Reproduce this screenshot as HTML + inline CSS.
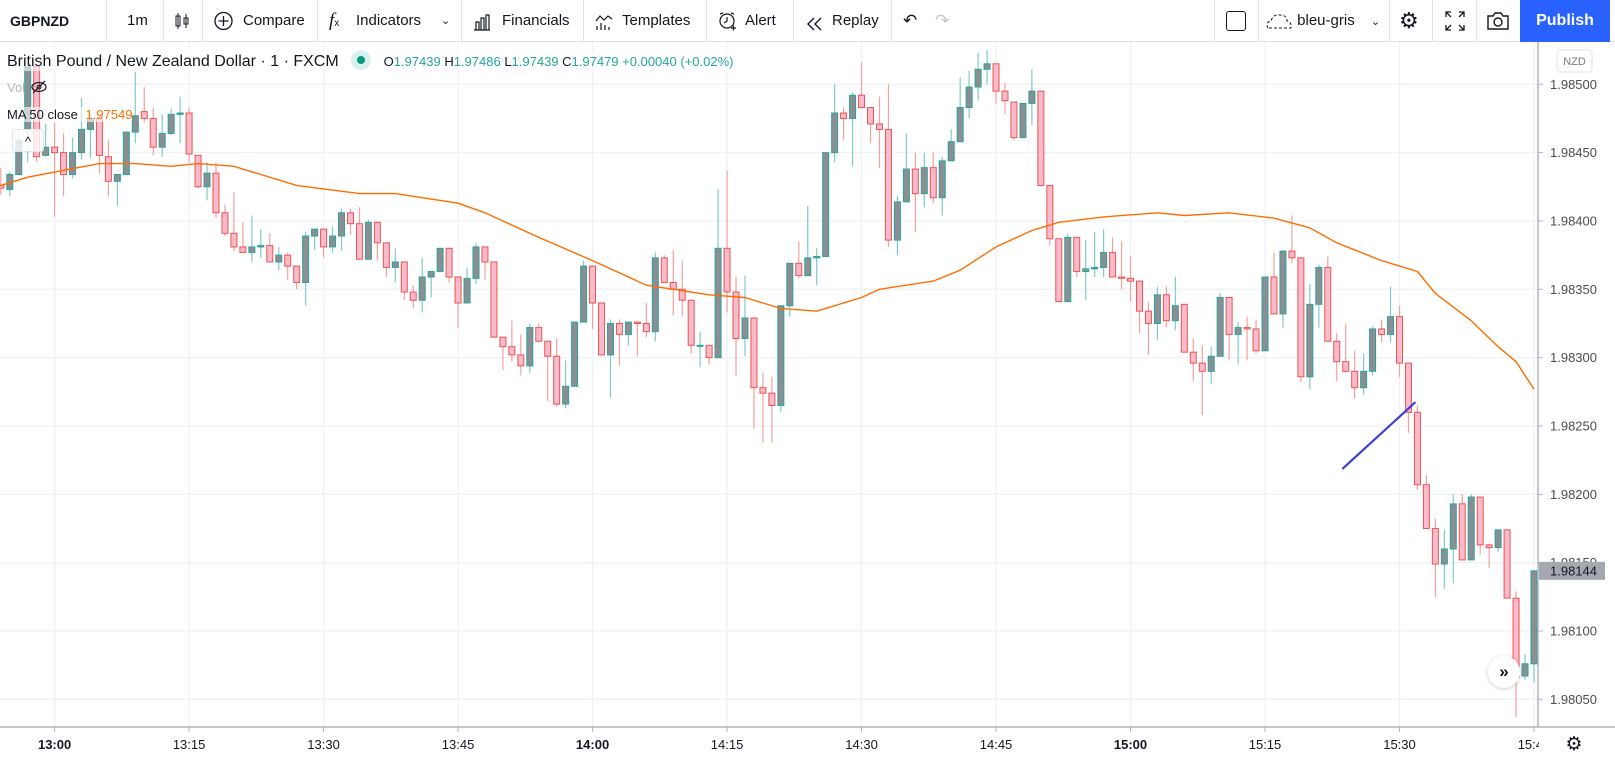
<!DOCTYPE html>
<html><head><meta charset="utf-8"><style>
*{box-sizing:border-box;margin:0;padding:0}
body{width:1615px;height:759px;overflow:hidden;background:#fff;font-family:"Liberation Sans",sans-serif;color:#131722;position:relative}
.tb{position:absolute;left:0;top:0;width:1615px;height:42px;border-bottom:1px solid #e0e3eb;background:#fff}
.ti{position:absolute;top:0;height:42px;line-height:42px;font-size:15px;color:#131722;white-space:nowrap}
.ic{position:absolute;top:11px;height:20px}
.sep{position:absolute;top:0;width:1px;height:42px;background:#e0e3eb}
.leg{position:absolute;left:7px;white-space:nowrap}
</style></head><body>
<div class="tb">
 <div class="ti" style="left:10px;font-weight:bold;font-size:14px">GBPNZD</div>
 <div class="sep" style="left:106px"></div>
 <div class="ti" style="left:127px">1m</div>
 <div class="sep" style="left:163px"></div>
 <svg class="ic" style="left:174px" width="16" height="20" viewBox="0 0 16 20"><rect x="2" y="5" width="4" height="10" fill="none" stroke="#131722"/><line x1="4" y1="2" x2="4" y2="18" stroke="#131722"/><rect x="10" y="7" width="4" height="6" fill="none" stroke="#131722"/><line x1="12" y1="3" x2="12" y2="17" stroke="#131722"/></svg>
 <div class="sep" style="left:202px"></div>
 <svg class="ic" style="left:213px" width="21" height="20" viewBox="0 0 20 20"><circle cx="10" cy="10" r="8.5" fill="none" stroke="#131722" stroke-width="1.3"/><path d="M10 5v10M5 10h10" stroke="#131722" stroke-width="1.3"/></svg>
 <div class="ti" style="left:243px">Compare</div>
 <div class="sep" style="left:317px"></div>
 <div class="ti" style="left:329px"><i style="font-family:'Liberation Serif',serif;font-size:19px">f</i><span style="font-size:10px">x</span></div>
 <div class="ti" style="left:356px">Indicators</div>
 <div class="ti" style="left:441px;font-size:11px">⌄</div>
 <div class="sep" style="left:461px"></div>
 <svg class="ic" style="left:473px;top:12px" width="18" height="18" viewBox="0 0 18 18"><path d="M1 17h16M3 17V9h3v8M8 17V5h3v12M13 17V2h3v15" fill="none" stroke="#131722" stroke-width="1.2"/></svg>
 <div class="ti" style="left:502px">Financials</div>
 <div class="sep" style="left:583px"></div>
 <svg class="ic" style="left:595px;top:12px" width="18" height="18" viewBox="0 0 18 18"><path d="M1 8l4-5 4 4 4-4 4 3M2 17v-4M6 17v-7M10 17v-5M14 17v-3" fill="none" stroke="#131722" stroke-width="1.2"/></svg>
 <div class="ti" style="left:622px">Templates</div>
 <div class="sep" style="left:706px"></div>
 <svg class="ic" style="left:717px" width="20" height="20" viewBox="0 0 20 20"><circle cx="10" cy="10" r="7" fill="none" stroke="#131722" stroke-width="1.2"/><path d="M10 6v4l-3 2M3 3l3-1M17 3l-3-1M14 17h5M16.5 14.5v5" fill="none" stroke="#131722" stroke-width="1.2"/></svg>
 <div class="ti" style="left:745px">Alert</div>
 <div class="sep" style="left:793px"></div>
 <svg class="ic" style="left:806px;top:14px" width="18" height="14" viewBox="0 0 18 14"><path d="M8 1L2 7l6 6M15 1L9 7l6 6" fill="none" stroke="#131722" stroke-width="1.4"/></svg>
 <div class="ti" style="left:832px">Replay</div>
 <div class="sep" style="left:891px"></div>
 <div class="ti" style="left:903px;font-size:17px">↶</div>
 <div class="ti" style="left:935px;font-size:17px;color:#c3c6ce">↷</div>
 <div class="sep" style="left:1214px"></div>
 <div class="ti" style="left:1226px;top:11px;height:20px;width:20px;border:1.6px solid #131722;border-radius:3px"></div>
 <div class="sep" style="left:1258px"></div>
 <div class="ti" style="left:1265px"><svg width="28" height="16" viewBox="0 0 28 16" style="vertical-align:middle"><path d="M3 15 Q0 9 6 8 Q8 1 15 2 Q22 2 22 8 Q27 9 26 15 Z" fill="none" stroke="#131722" stroke-dasharray="3 2"/></svg> bleu-gris <span style="font-size:11px;margin-left:12px">⌄</span></div>
 <div class="sep" style="left:1389px"></div>
 <div class="ti" style="left:1399px;font-size:22px">⚙</div>
 <div class="sep" style="left:1432px"></div>
 <div class="ti" style="left:1445px"><svg width="20" height="20" viewBox="0 0 20 20" style="vertical-align:middle"><path d="M1 6V1h5M1 1l5 5M19 6V1h-5M19 1l-5 5M1 14v5h5M1 19l5-5M19 14v5h-5M19 19l-5-5" fill="none" stroke="#131722" stroke-width="1.3"/></svg></div>
 <div class="sep" style="left:1476px"></div>
 <div class="ti" style="left:1486px"><svg width="24" height="20" viewBox="0 0 24 20" style="vertical-align:middle"><path d="M2 5h5l2-3h6l2 3h5v13H2z" fill="none" stroke="#131722" stroke-width="1.4"/><circle cx="12" cy="11" r="4" fill="none" stroke="#131722" stroke-width="1.4"/></svg></div>
 <div class="ti" style="left:1520px;width:90px;background:#2962ff;color:#fff;text-align:center;font-size:16px;font-weight:bold">Publish</div>
</div>

<svg id="chart" width="1615" height="717" style="position:absolute;left:0;top:42px"></svg>

<div class="leg" style="top:50px;font-size:16px;color:#131722;background:rgba(255,255,255,0.6)"><span>British Pound / New Zealand Dollar · 1 · FXCM</span>
 <span style="display:inline-block;width:20px;height:20px;border-radius:10px;background:#d8f0ee;vertical-align:-4px;margin-left:8px;position:relative"><span style="position:absolute;left:6px;top:6px;width:8px;height:8px;border-radius:4px;background:#089981"></span></span>
 <span style="font-size:13px;color:#26a69a;margin-left:8px"><span style="color:#131722">O</span>1.97439 <span style="color:#131722">H</span>1.97486 <span style="color:#131722">L</span>1.97439 <span style="color:#131722">C</span>1.97479 +0.00040 (+0.02%)</span></div>
<div class="leg" style="top:80px;font-size:13px;color:#b2b5be">Vol <svg width="16" height="14" viewBox="0 0 16 14" style="vertical-align:-2px;margin-left:2px"><ellipse cx="8" cy="7" rx="7" ry="4.5" fill="none" stroke="#131722" stroke-width="1.2"/><circle cx="8" cy="7" r="2" fill="none" stroke="#131722"/><line x1="2" y1="13" x2="14" y2="1" stroke="#131722" stroke-width="1.2"/></svg></div>
<div class="leg" style="top:107px;font-size:13px;color:#131722;background:rgba(255,255,255,0.6)">MA 50 close <span style="color:#ff6d00;margin-left:4px">1.97549</span></div>
<div style="position:absolute;left:12px;top:129px;width:32px;height:23px;border:1px solid #e0e3eb;border-radius:3px;background:rgba(255,255,255,0.8);text-align:center;font-size:13px;line-height:24px">^</div>
<div style="position:absolute;left:1488px;top:656px;width:32px;height:32px;border-radius:16px;background:#fff;box-shadow:0 1px 4px rgba(0,0,0,0.2);text-align:center;line-height:31px;font-size:17px;font-weight:bold;color:#131722">»</div>

<script>
const startMinute = -6;
const opens = [1.98426,1.98423,1.98434,1.98467,1.98513,1.98448,1.98454,1.98450,1.98434,1.98450,1.98467,1.98475,1.98447,1.98429,1.98434,1.98465,1.98480,1.98475,1.98454,1.98464,1.98478,1.98479,1.98448,1.98425,1.98435,1.98406,1.98391,1.98381,1.98377,1.98381,1.98382,1.98370,1.98375,1.98367,1.98355,1.98389,1.98394,1.98381,1.98389,1.98406,1.98398,1.98372,1.98399,1.98384,1.98366,1.98370,1.98348,1.98342,1.98359,1.98363,1.98380,1.98359,1.98340,1.98358,1.98381,1.98370,1.98315,1.98308,1.98302,1.98294,1.98322,1.98312,1.98301,1.98266,1.98279,1.98326,1.98367,1.98340,1.98302,1.98325,1.98317,1.98326,1.98325,1.98319,1.98373,1.98355,1.98350,1.98342,1.98309,1.98309,1.98300,1.98380,1.98348,1.98314,1.98329,1.98278,1.98274,1.98265,1.98338,1.98369,1.98360,1.98373,1.98374,1.98450,1.98479,1.98475,1.98492,1.98483,1.98471,1.98467,1.98386,1.98414,1.98438,1.98420,1.98439,1.98417,1.98444,1.98458,1.98483,1.98498,1.98511,1.98515,1.98495,1.98487,1.98461,1.98486,1.98495,1.98426,1.98387,1.98341,1.98388,1.98363,1.98365,1.98366,1.98377,1.98359,1.98358,1.98356,1.98334,1.98325,1.98346,1.98327,1.98339,1.98304,1.98296,1.98290,1.98301,1.98344,1.98317,1.98322,1.98321,1.98305,1.98359,1.98332,1.98378,1.98373,1.98286,1.98339,1.98366,1.98312,1.98297,1.98290,1.98278,1.98290,1.98321,1.98317,1.98330,1.98296,1.98260,1.98207,1.98175,1.98149,1.98160,1.98193,1.98152,1.98198,1.98163,1.98161,1.98174,1.98124,1.98067,1.98076];
const closes = [1.98424,1.98434,1.98459,1.98513,1.98447,1.98454,1.98450,1.98434,1.98450,1.98467,1.98475,1.98448,1.98429,1.98434,1.98465,1.98477,1.98475,1.98454,1.98464,1.98478,1.98479,1.98449,1.98425,1.98435,1.98406,1.98391,1.98381,1.98377,1.98381,1.98382,1.98370,1.98375,1.98367,1.98355,1.98389,1.98394,1.98381,1.98389,1.98406,1.98398,1.98372,1.98399,1.98384,1.98366,1.98370,1.98348,1.98342,1.98359,1.98363,1.98380,1.98359,1.98340,1.98358,1.98381,1.98370,1.98315,1.98308,1.98302,1.98294,1.98322,1.98312,1.98301,1.98266,1.98279,1.98326,1.98367,1.98340,1.98302,1.98325,1.98317,1.98326,1.98325,1.98319,1.98373,1.98355,1.98350,1.98342,1.98309,1.98309,1.98300,1.98380,1.98348,1.98314,1.98329,1.98278,1.98274,1.98265,1.98338,1.98369,1.98360,1.98373,1.98374,1.98450,1.98479,1.98475,1.98492,1.98483,1.98471,1.98467,1.98386,1.98414,1.98438,1.98420,1.98439,1.98417,1.98444,1.98458,1.98483,1.98498,1.98511,1.98515,1.98495,1.98488,1.98461,1.98486,1.98495,1.98426,1.98387,1.98341,1.98388,1.98363,1.98365,1.98366,1.98377,1.98359,1.98358,1.98356,1.98334,1.98325,1.98346,1.98327,1.98338,1.98304,1.98296,1.98290,1.98301,1.98344,1.98317,1.98322,1.98321,1.98305,1.98359,1.98332,1.98378,1.98373,1.98286,1.98339,1.98366,1.98312,1.98297,1.98290,1.98278,1.98290,1.98321,1.98317,1.98330,1.98296,1.98260,1.98207,1.98175,1.98149,1.98160,1.98193,1.98152,1.98198,1.98163,1.98161,1.98174,1.98124,1.98066,1.98076,1.98144];
const highs = [1.98439,1.98436,1.98466,1.98513,1.98513,1.98471,1.98472,1.98464,1.98461,1.98490,1.98478,1.98478,1.98459,1.98434,1.98465,1.98509,1.98498,1.98483,1.98478,1.98482,1.98491,1.98483,1.98448,1.98443,1.98443,1.98412,1.98421,1.98399,1.98404,1.98394,1.98391,1.98381,1.98377,1.98367,1.98392,1.98394,1.98394,1.98396,1.98409,1.98409,1.98410,1.98401,1.98399,1.98384,1.98380,1.98370,1.98353,1.98373,1.98363,1.98380,1.98380,1.98359,1.98366,1.98384,1.98381,1.98370,1.98315,1.98327,1.98317,1.98325,1.98325,1.98312,1.98314,1.98298,1.98326,1.98371,1.98367,1.98340,1.98328,1.98328,1.98326,1.98326,1.98340,1.98377,1.98375,1.98379,1.98371,1.98342,1.98319,1.98309,1.98423,1.98437,1.98359,1.98360,1.98329,1.98289,1.98286,1.98338,1.98369,1.98385,1.98411,1.98380,1.98450,1.98500,1.98483,1.98494,1.98516,1.98483,1.98491,1.98500,1.98418,1.98464,1.98450,1.98450,1.98450,1.98447,1.98467,1.98505,1.98510,1.98523,1.98525,1.98515,1.98501,1.98487,1.98486,1.98511,1.98495,1.98426,1.98387,1.98391,1.98388,1.98386,1.98392,1.98394,1.98388,1.98385,1.98374,1.98356,1.98341,1.98352,1.98352,1.98359,1.98339,1.98314,1.98309,1.98308,1.98347,1.98344,1.98326,1.98330,1.98328,1.98359,1.98377,1.98378,1.98404,1.98373,1.98354,1.98368,1.98374,1.98318,1.98325,1.98305,1.98303,1.98323,1.98328,1.98352,1.98338,1.98296,1.98265,1.98214,1.98182,1.98174,1.98200,1.98200,1.98200,1.98198,1.98164,1.98174,1.98174,1.98129,1.98083,1.98144];
const lows = [1.98419,1.98418,1.98434,1.98443,1.98443,1.98447,1.98403,1.98418,1.98431,1.98445,1.98446,1.98435,1.98418,1.98411,1.98434,1.98457,1.98472,1.98448,1.98447,1.98463,1.98457,1.98443,1.98424,1.98415,1.98402,1.98389,1.98378,1.98377,1.98370,1.98373,1.98370,1.98364,1.98357,1.98350,1.98338,1.98379,1.98373,1.98377,1.98378,1.98390,1.98372,1.98372,1.98371,1.98359,1.98355,1.98342,1.98336,1.98333,1.98344,1.98363,1.98355,1.98322,1.98340,1.98354,1.98357,1.98315,1.98291,1.98297,1.98287,1.98289,1.98311,1.98268,1.98264,1.98263,1.98279,1.98326,1.98321,1.98302,1.98271,1.98294,1.98309,1.98301,1.98315,1.98312,1.98355,1.98331,1.98330,1.98303,1.98293,1.98295,1.98300,1.98333,1.98287,1.98301,1.98248,1.98238,1.98238,1.98260,1.98330,1.98358,1.98360,1.98353,1.98374,1.98443,1.98459,1.98440,1.98483,1.98457,1.98439,1.98381,1.98375,1.98414,1.98392,1.98410,1.98413,1.98404,1.98444,1.98458,1.98475,1.98488,1.98500,1.98486,1.98478,1.98459,1.98461,1.98470,1.98426,1.98382,1.98341,1.98341,1.98359,1.98342,1.98359,1.98359,1.98359,1.98350,1.98341,1.98318,1.98302,1.98313,1.98322,1.98320,1.98304,1.98283,1.98258,1.98281,1.98301,1.98298,1.98295,1.98298,1.98303,1.98305,1.98332,1.98322,1.98369,1.98282,1.98277,1.98322,1.98312,1.98283,1.98289,1.98270,1.98273,1.98287,1.98311,1.98311,1.98286,1.98245,1.98203,1.98175,1.98125,1.98131,1.98135,1.98152,1.98152,1.98156,1.98146,1.98158,1.98124,1.98037,1.98064,1.98062];
const maMinutes = [-6,-3,5,9,13,16,20,23,27,34,38,45,48,54,60,66,73,77,81,85,90,92,98,101,105,109,112,117,123,126,131,136,140,143,148,152,154,158,161,163,165];
const maValues = [1.98426,1.98432,1.98442,1.98442,1.98440,1.98442,1.98440,1.98434,1.98426,1.98420,1.98420,1.98413,1.98406,1.98388,1.98371,1.98353,1.98346,1.98344,1.98336,1.98334,1.98344,1.98350,1.98356,1.98364,1.98381,1.98393,1.98399,1.98403,1.98406,1.98404,1.98406,1.98402,1.98395,1.98384,1.98371,1.98363,1.98347,1.98327,1.98308,1.98297,1.98277];
const priceTicks = [1.98500,1.98450,1.98400,1.98350,1.98300,1.98250,1.98200,1.98150,1.98100,1.98050];
const timeTickMinutes = [0,15,30,45,60,75,90,105,120,135,150,165];
const timeTickLabels = ["13:00","13:15","13:30","13:45","14:00","14:15","14:30","14:45","15:00","15:15","15:30","15:45"];
const trendLine = {m1:143.7,p1:1.98219,m2:151.7,p2:1.98267};
const lastPrice = 1.98144;

const NS="http://www.w3.org/2000/svg";
const svg=document.getElementById('chart');
const TOP=42, PLOT_R=1538, AXIS_Y=727-TOP;
function X(m){return 54.6+m*8.966;}
function Y(p){return 84.3-TOP+(1.98500-p)*136670;}
function mk(tag,attrs,parent){const e=document.createElementNS(NS,tag);for(const k in attrs)e.setAttribute(k,attrs[k]);(parent||svg).appendChild(e);return e;}
const defs=mk('defs',{});const cp=mk('clipPath',{id:'plot'},defs);mk('rect',{x:0,y:0,width:PLOT_R,height:AXIS_Y},cp);
const grid=mk('g',{});


priceTicks.forEach(p=>{const l=mk('line',{x1:0,x2:PLOT_R,y1:Y(p),y2:Y(p),stroke:'#eef1f6','stroke-width':1.3},grid);
 
 });
timeTickMinutes.forEach(m=>{const l=mk('line',{x1:X(m),x2:X(m),y1:0,y2:AXIS_Y,stroke:'#eef1f6','stroke-width':1.3},grid);
 
 });
const plot=mk('g',{'clip-path':'url(#plot)'});


for(let i=0;i<opens.length;i++){
 const m=startMinute+i,x=X(m),o=opens[i],c=closes[i],up=c>=o;
 const g=mk('g',{},plot);
 
 
 mk('line',{x1:x,x2:x,y1:Y(highs[i]),y2:Y(lows[i]),stroke:up?'#80cbc4':'#f3a0a0','stroke-width':1.2},g);
 const yt=Y(Math.max(o,c)),yb=Y(Math.min(o,c));
 mk('rect',{x:x-3,y:yt,width:6,height:Math.max(1,yb-yt),fill:up?'#8c8e94':'#f8bbcb',stroke:up?'#26a69a':'#ef5350','stroke-width':1},g);
}
let d='';maMinutes.forEach((m,i)=>{d+=(i?'L':'M')+X(m).toFixed(1)+' '+Y(maValues[i]).toFixed(1);});
const ma=mk('path',{d:d,fill:'none',stroke:'#ff6d00','stroke-width':1.4,'stroke-linejoin':'round'},plot);


const tl=mk('line',{x1:X(trendLine.m1),y1:Y(trendLine.p1),x2:X(trendLine.m2),y2:Y(trendLine.p2),stroke:'#3c3fd6','stroke-width':2.2,'stroke-linecap':'round'},plot);


mk('line',{x1:PLOT_R,x2:PLOT_R,y1:0,y2:AXIS_Y,stroke:'#b2b5be','stroke-width':1.5});
mk('line',{x1:0,x2:1615,y1:AXIS_Y,y2:AXIS_Y,stroke:'#b2b5be','stroke-width':1.5});
const nz=mk('rect',{x:1557,y:50-TOP,width:35,height:22,rx:3,fill:'#fff',stroke:'#e0e3eb'});


const nzt=mk('text',{x:1574.5,y:65-TOP,'text-anchor':'middle','font-size':11,fill:'#787b86','font-family':'Liberation Sans, sans-serif'});nzt.textContent='NZD';
priceTicks.forEach(p=>{mk('line',{x1:PLOT_R,x2:PLOT_R+5,y1:Y(p),y2:Y(p),stroke:'#b2b5be'});
 const t=mk('text',{x:1550,y:Y(p)+4.5,'font-size':13,fill:'#4a4d57','font-family':'Liberation Sans, sans-serif'});
 
 
 t.textContent=p.toFixed(5);});
const lp=mk('rect',{x:PLOT_R+1,y:Y(lastPrice)-9,width:66,height:18,fill:'#a5a8b0'});


const lpt=mk('text',{x:1550,y:Y(lastPrice)+4.5,'font-size':13,fill:'#131722','font-family':'Liberation Sans, sans-serif'});lpt.textContent=lastPrice.toFixed(5);
timeTickMinutes.forEach((m,i)=>{if(X(m)>PLOT_R+2)return;
 mk('line',{x1:X(m),x2:X(m),y1:AXIS_Y,y2:AXIS_Y+5,stroke:'#b2b5be'});
 const bold=timeTickLabels[i].endsWith(':00');
 const t=mk('text',{x:X(m),y:AXIS_Y+22,'text-anchor':'middle','font-size':13,fill:'#131722','font-weight':bold?'bold':'normal','font-family':'Liberation Sans, sans-serif'});
 
 
 t.textContent=timeTickLabels[i];});
mk('rect',{x:PLOT_R+1,y:AXIS_Y+1,width:80,height:40,fill:'#fff'});
const gear=mk('text',{x:1574,y:AXIS_Y+23,'text-anchor':'middle','font-size':19,fill:'#131722','font-family':'DejaVu Sans, sans-serif'});gear.textContent='⚙';


</script>
</body></html>
